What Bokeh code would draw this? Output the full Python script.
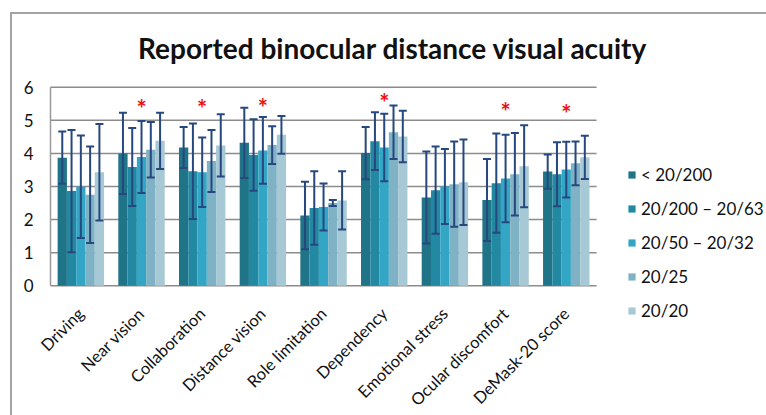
from math import pi

from bokeh.plotting import figure
from bokeh.models import (ColumnDataSource, Range1d, Whisker, TeeHead,
                          Legend, LegendItem, Label, InlineStyleSheet)
from bokeh.core.properties import value
from bokeh.embed import file_html
from bokeh.resources import INLINE

# Subscales of the questionnaire (x categories)
categories = ["Driving", "Near vision", "Collaboration", "Distance vision",
              "Role limitation", "Dependency", "Emotional stress",
              "Ocular discomfort", "DeMask-20 score"]

# Visual acuity groups (series)
groups = ["< 20/200", "20/200 \u2013 20/63", "20/50 \u2013 20/32", "20/25", "20/20"]

# Mean scores per group, one value per category
mean_lt_20_200 = [3.87, 4.00, 4.18, 4.32, 2.12, 4.01, 2.67, 2.59, 3.45]
mean_20_200_63 = [2.86, 3.59, 3.46, 3.95, 2.35, 4.37, 2.89, 3.10, 3.37]
mean_20_50_32 = [2.99, 3.89, 3.43, 4.09, 2.38, 4.18, 3.00, 3.24, 3.51]
mean_20_25 = [2.75, 4.11, 3.77, 4.25, 2.50, 4.64, 3.07, 3.37, 3.70]
mean_20_20 = [3.43, 4.38, 4.24, 4.56, 2.58, 4.51, 3.13, 3.61, 3.88]

# Standard deviations (error bars)
sd_lt_20_200 = [0.79, 1.23, 0.62, 1.06, 1.02, 0.79, 1.39, 1.24, 0.52]
sd_20_200_63 = [1.85, 1.18, 1.44, 1.08, 1.11, 0.87, 1.32, 1.50, 0.97]
sd_20_50_32 = [1.55, 1.09, 1.05, 1.01, 0.71, 1.02, 1.13, 1.32, 0.84]
sd_20_25 = [1.46, 0.84, 0.94, 0.57, 0.09, 0.81, 1.29, 1.25, 0.66]
sd_20_20 = [1.46, 0.85, 0.94, 0.57, 0.88, 0.78, 1.29, 1.24, 0.65]

# Categories with a significant group difference, and the height of the marker
significant = ["Near vision", "Collaboration", "Distance vision",
               "Dependency", "Ocular discomfort", "DeMask-20 score"]
significant_y = [5.47, 5.47, 5.50, 5.65, 5.40, 5.33]

y_ticks = [0, 1, 2, 3, 4, 5, 6]
y_tick_labels = ["0", "1", "2", "3", "4", "5", "6"]

means = [mean_lt_20_200, mean_20_200_63, mean_20_50_32, mean_20_25, mean_20_20]
sds = [sd_lt_20_200, sd_20_200_63, sd_20_50_32, sd_20_25, sd_20_20]
colors = ["#1f7488", "#2389a3", "#33a6c6", "#7eb2c4", "#a7c9d5"]

FONT = "Lato"
TEXT = "#111111"
bar_w = 0.153
n = len(categories)

# thin grey frame around the whole chart area (left and top edges)
frame_css = InlineStyleSheet(css="""
:host { position: relative; }
:host::after {
  content: ""; position: absolute; left: 10px; top: 12px; right: -4px; bottom: -4px;
  border-left: 2px solid #a3a3a3; border-top: 2px solid #a3a3a3;
  pointer-events: none;
}
""")

# The plotting frame covers the whole canvas, so the title, legend, value
# labels and rotated category names all live inside it.
p = figure(width=766, height=415, output_backend="svg", toolbar_location=None,
           x_range=Range1d(-0.824, 11.8), y_range=Range1d(-3.92, 8.62),
           min_border=0, outline_line_color=None, title=None,
           x_axis_type=None, y_axis_type=None, stylesheets=[frame_css])
p.background_fill_color = "white"
p.border_fill_color = "white"
p.grid.visible = False

# horizontal grid lines across the category span, and the value axis line
p.segment(x0=[0] * len(y_ticks), x1=[n] * len(y_ticks), y0=y_ticks, y1=y_ticks,
          line_color="#8c8c8c", line_width=1.5)
p.segment(x0=[0], x1=[0], y0=[min(y_ticks)], y1=[max(y_ticks)],
          line_color="#9a9a9a", line_width=1.5)

# value tick labels
p.text(x=[0] * len(y_ticks), y=y_ticks, text=y_tick_labels, x_offset=-17,
       text_align="right", text_baseline="middle",
       text_font=value(FONT), text_font_size="17px", text_color=TEXT)

items = []
for j, (name, m, s, c) in enumerate(zip(groups, means, sds, colors)):
    xs = [i + 0.5 + (j - 2) * bar_w for i in range(n)]
    src = ColumnDataSource(dict(x=xs, top=m,
                                upper=[a + b for a, b in zip(m, s)],
                                lower=[a - b for a, b in zip(m, s)]))
    r = p.vbar(x="x", top="top", bottom=0, width=bar_w, source=src,
               fill_color=c, line_color=None)
    items.append(LegendItem(label=name, renderers=[r]))
    w = Whisker(base="x", upper="upper", lower="lower", source=src,
                line_color="#27477f", line_width=2, level="annotation",
                upper_head=TeeHead(size=8, line_color="#27477f", line_width=2),
                lower_head=TeeHead(size=8, line_color="#27477f", line_width=2))
    p.add_layout(w)

# significance markers
sig_src = ColumnDataSource(dict(x=[categories.index(c) + 0.5 for c in significant],
                                y=significant_y, t=["*"] * len(significant)))
p.text(x="x", y="y", text="t", source=sig_src, text_color="#ee1111",
       text_font=value(FONT), text_font_style="bold", text_font_size="24px",
       text_align="center", text_baseline="middle", y_offset=4)

# rotated category names under the bars
cat_src = ColumnDataSource(dict(x=[i + 0.5 for i in range(n)], y=[0] * n, t=categories))
p.text(x="x", y="y", text="t", source=cat_src, angle=pi / 4,
       text_align="right", text_baseline="middle", x_offset=0, y_offset=25,
       text_font=value(FONT), text_font_size="16.5px", text_color=TEXT)

legend = Legend(items=items, location=(627, 94), padding=0, margin=0,
                glyph_width=9, glyph_height=9, label_height=20, spacing=13,
                label_standoff=5, border_line_color=None, background_fill_alpha=0,
                label_text_font=FONT, label_text_font_size="17px",
                label_text_color=TEXT)
p.add_layout(legend, "center")

title = Label(x=5.64, y=7.17, text="Reported binocular distance visual acuity",
              text_font=FONT, text_font_style="bold", text_font_size="28px",
              text_align="center", text_baseline="middle", text_color=TEXT)
p.add_layout(title)

open("out.html", "w").write(file_html(p, INLINE))
